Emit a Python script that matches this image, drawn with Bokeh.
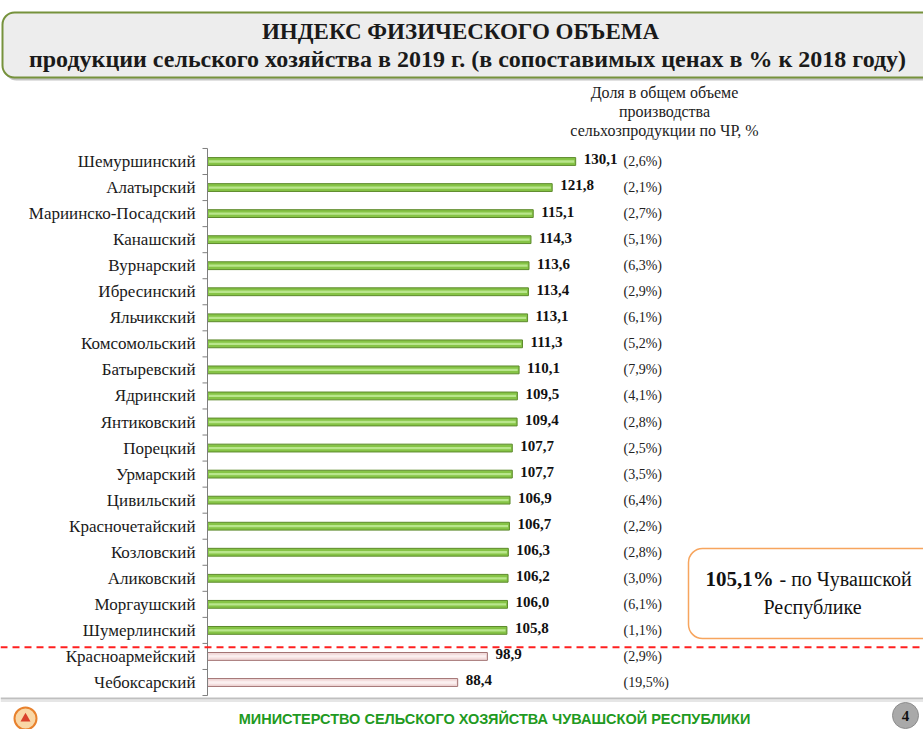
from bokeh.plotting import figure
from bokeh.models import Range1d
from bokeh.core.properties import value
from bokeh.embed import file_html
from bokeh.resources import INLINE

# ---------------- data ----------------
districts = ["Шемуршинский", "Алатырский", "Мариинско-Посадский", "Канашский", "Вурнарский",
             "Ибресинский", "Яльчикский", "Комсомольский", "Батыревский", "Ядринский",
             "Янтиковский", "Порецкий", "Урмарский", "Цивильский", "Красночетайский",
             "Козловский", "Аликовский", "Моргаушский", "Шумерлинский", "Красноармейский",
             "Чебоксарский"]
index_values = [130.1, 121.8, 115.1, 114.3, 113.6, 113.4, 113.1, 111.3, 110.1, 109.5,
                109.4, 107.7, 107.7, 106.9, 106.7, 106.3, 106.2, 106.0, 105.8, 98.9, 88.4]
shares = ["(2,6%)", "(2,1%)", "(2,7%)", "(5,1%)", "(6,3%)", "(2,9%)", "(6,1%)", "(5,2%)",
          "(7,9%)", "(4,1%)", "(2,8%)", "(2,5%)", "(3,5%)", "(6,4%)", "(2,2%)", "(2,8%)",
          "(3,0%)", "(6,1%)", "(1,1%)", "(2,9%)", "(19,5%)"]
republic_value = "105,1%"
threshold = 100.0

# ---------------- geometry helpers ----------------
OFF = 0
W, H = 923, 729
XS = 2.83          # px per unit
X0 = 207 - OFF     # canvas px of value 0
RS = 26.05         # px per row
Y0 = 161 - OFF     # canvas px of row 0

def dx(px):  # page px -> data x
    return (px - OFF - X0) / XS

def dy(py):  # page px -> data y (row units)
    return (py - OFF - Y0) / RS

p = figure(width=W, height=H,
           x_range=Range1d(-X0 / XS, (W - X0) / XS),
           y_range=Range1d((H - Y0) / RS, -Y0 / RS),
           output_backend="svg", toolbar_location=None,
           x_axis_location=None, y_axis_location=None, min_border=0)
p.grid.visible = False
p.outline_line_color = None
p.background_fill_color = "white"
p.border_fill_color = "white"

SERIF = value("'Liberation Serif', 'Times New Roman', serif")
NARROW = value("'Liberation Sans Narrow', 'Arial Narrow', sans-serif")

# ---------------- title box ----------------
p.quad(left=[dx(4)], right=[dx(960)], top=[dy(15)], bottom=[dy(80)],
       fill_color="#8a8a8a", line_color=None, border_radius=12, fill_alpha=0.5)
p.quad(left=[dx(2)], right=[dx(960)], top=[dy(12)], bottom=[dy(77)],
       fill_color="#ededed", line_color="#76923c", line_width=2, border_radius=12)
p.text(x=[dx(460)], y=[dy(31)], text=["ИНДЕКС ФИЗИЧЕСКОГО ОБЪЕМА"],
       text_font=SERIF, text_font_style="bold", text_font_size="23px",
       text_align="center", text_baseline="middle", text_color="#1a1a1a")
p.text(x=[dx(467)], y=[dy(58)],
       text=["продукции сельского хозяйства в 2019 г. (в сопоставимых ценах в % к 2018 году)"],
       text_font=SERIF, text_font_style="bold", text_font_size="24px",
       text_align="center", text_baseline="middle", text_color="#1a1a1a")

# ---------------- share header ----------------
hdr = ["Доля в общем объеме", "производства", "сельхозпродукции по ЧР, %"]
p.text(x=[dx(664)] * 3, y=[dy(92), dy(111), dy(130)], text=hdr,
       text_font=SERIF, text_font_size="16px", text_align="center",
       text_baseline="middle", text_color="#222222")

# ---------------- bars ----------------
rows = list(range(len(districts)))
up_rows = [i for i, v in enumerate(index_values) if v >= threshold]
dn_rows = [i for i, v in enumerate(index_values) if v < threshold]

p.hbar(y=up_rows, left=0, right=[index_values[i] for i in up_rows], height=0.3,
       fill_color="#86c446", line_color="#5d8a2c", line_width=1)
p.hbar(y=up_rows, left=0.5, right=[index_values[i] - 0.5 for i in up_rows], height=0.09,
       fill_color="#b9e68c", line_color=None)
p.hbar(y=dn_rows, left=0, right=[index_values[i] for i in dn_rows], height=0.3,
       fill_color="#f4dede", line_color="#a07070", line_width=1)
p.hbar(y=dn_rows, left=0.5, right=[index_values[i] - 0.5 for i in dn_rows], height=0.09,
       fill_color="#fbf0f0", line_color=None)

# value labels
p.text(x=index_values, y=[r - 0.08 for r in rows],
       text=[f"{v:.1f}".replace(".", ",") for v in index_values],
       x_offset=8, text_font=SERIF, text_font_style="bold", text_font_size="15px",
       text_align="left", text_baseline="middle", text_color="#111111")

# share labels
p.text(x=[dx(623)] * len(rows), y=rows, text=shares,
       text_font=SERIF, text_font_size="14px", text_align="left",
       text_baseline="middle", text_color="#222222")

# category labels
p.text(x=[0] * len(rows), y=rows, text=districts, x_offset=-12,
       text_font=SERIF, text_font_size="17px", text_align="right",
       text_baseline="middle", text_color="#1a1a1a")

# axis line and ticks
p.segment(x0=[0], x1=[0], y0=[-0.5], y1=[len(rows) - 0.5], line_color="#7f7f7f", line_width=1)
p.segment(x0=[dx(202)] * (len(rows) + 1), x1=[0] * (len(rows) + 1),
          y0=[r - 0.5 for r in range(len(rows) + 1)],
          y1=[r - 0.5 for r in range(len(rows) + 1)], line_color="#7f7f7f", line_width=1)

# threshold dashed line (between last >=100 and first <100)
sep = (up_rows[-1] + dn_rows[0]) / 2 + 0.15
p.segment(x0=[dx(0)], x1=[dx(930)], y0=[sep], y1=[sep],
          line_color="#ff2020", line_width=2, line_dash="7 5")

# ---------------- republic box ----------------
p.quad(left=[dx(688)], right=[dx(960)], top=[dy(548)], bottom=[dy(638)],
       fill_color="white", line_color="#f7a55e", line_width=1.5, border_radius=14)
p.text(x=[dx(705)], y=[dy(578)], text=[republic_value],
       text_font=SERIF, text_font_style="bold", text_font_size="21px",
       text_align="left", text_baseline="middle", text_color="#111111")
p.text(x=[dx(779)], y=[dy(578)], text=["- по Чувашской"],
       text_font=SERIF, text_font_size="20px",
       text_align="left", text_baseline="middle", text_color="#111111")
p.text(x=[dx(812)], y=[dy(606)], text=["Республике"],
       text_font=SERIF, text_font_size="20px",
       text_align="center", text_baseline="middle", text_color="#111111")

# ---------------- footer ----------------
p.segment(x0=[dx(0)], x1=[dx(930)], y0=[dy(698)], y1=[dy(698)],
          line_color="#bfbfbf", line_width=2)
p.segment(x0=[dx(0)], x1=[dx(930)], y0=[dy(700.5)], y1=[dy(700.5)],
          line_color="#e6e6e6", line_width=2)
p.text(x=[dx(494)], y=[dy(718)], text=["МИНИСТЕРСТВО СЕЛЬСКОГО ХОЗЯЙСТВА ЧУВАШСКОЙ РЕСПУБЛИКИ"],
       text_font=NARROW, text_font_style="bold", text_font_size="14.5px",
       text_align="center", text_baseline="middle", text_color="#1f9a22")
# logo
p.scatter(x=[dx(25)], y=[dy(718)], size=22, marker="circle",
          fill_color="#f9d7a6", line_color="#e8822e", line_width=2)
p.scatter(x=[dx(25)], y=[dy(718)], size=10, marker="triangle",
          fill_color="#d9412b", line_color=None)
# page number
p.scatter(x=[dx(905)], y=[dy(715)], size=26, marker="circle",
          fill_color="#a9a9a9", line_color="#8c8c8c", line_width=1)
p.text(x=[dx(905)], y=[dy(715)], text=["4"], text_font=SERIF, text_font_style="bold",
       text_font_size="15px", text_align="center", text_baseline="middle", text_color="#111111")

open("out.html", "w").write(file_html(p, INLINE))
